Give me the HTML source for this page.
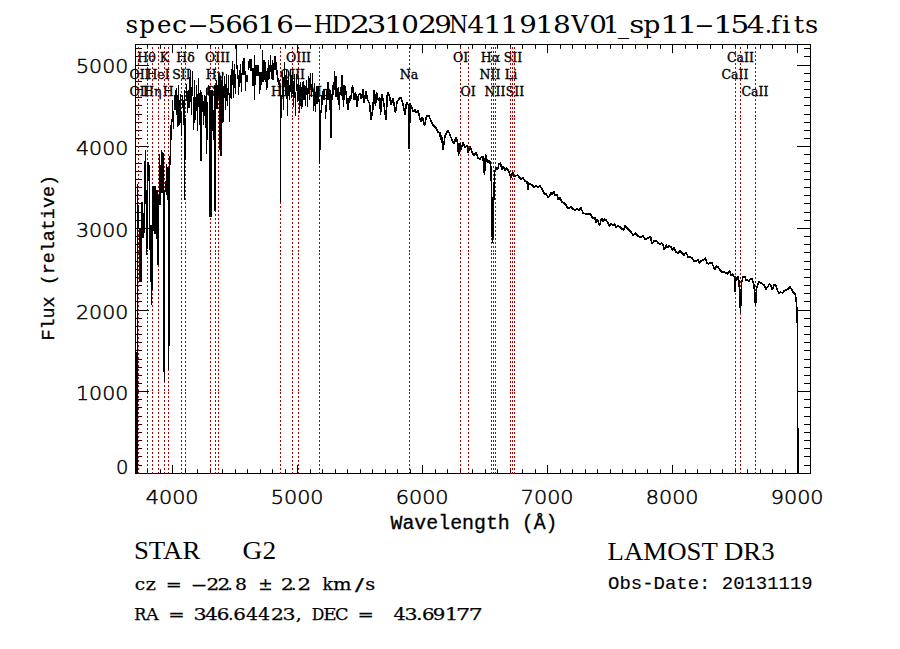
<!DOCTYPE html><html><head><meta charset="utf-8"><title>spec-56616-HD231029N411918V01_sp11-154.fits</title><style>html,body{margin:0;padding:0;background:#fff;}svg{display:block;}</style></head><body>
<svg width="900" height="649" viewBox="0 0 900 649">
<rect width="900" height="649" fill="#fff"/>
<text y="32.5" font-family="DejaVu Serif, Liberation Serif, serif" font-size="24.5" fill="#000"><tspan x="125.52" textLength="12.65" lengthAdjust="spacingAndGlyphs">s</tspan><tspan x="139.29" textLength="15.75" lengthAdjust="spacingAndGlyphs">p</tspan><tspan x="156.99" textLength="14.43" lengthAdjust="spacingAndGlyphs">e</tspan><tspan x="171.96" textLength="15.08" lengthAdjust="spacingAndGlyphs">c</tspan><tspan x="187.24" textLength="21.52" lengthAdjust="spacingAndGlyphs">-</tspan><tspan x="207.49" textLength="18.79" lengthAdjust="spacingAndGlyphs">5</tspan><tspan x="225.15" textLength="17.59" lengthAdjust="spacingAndGlyphs">6</tspan><tspan x="241.15" textLength="17.59" lengthAdjust="spacingAndGlyphs">6</tspan><tspan x="257.39" textLength="18.81" lengthAdjust="spacingAndGlyphs">1</tspan><tspan x="276.15" textLength="17.59" lengthAdjust="spacingAndGlyphs">6</tspan><tspan x="292.24" textLength="21.52" lengthAdjust="spacingAndGlyphs">-</tspan><tspan x="313.77" textLength="19.46" lengthAdjust="spacingAndGlyphs">H</tspan><tspan x="331.64" textLength="19.78" lengthAdjust="spacingAndGlyphs">D</tspan><tspan x="349.83" textLength="20.30" lengthAdjust="spacingAndGlyphs">2</tspan><tspan x="366.65" textLength="19.64" lengthAdjust="spacingAndGlyphs">3</tspan><tspan x="384.39" textLength="18.81" lengthAdjust="spacingAndGlyphs">1</tspan><tspan x="401.17" textLength="17.68" lengthAdjust="spacingAndGlyphs">0</tspan><tspan x="417.98" textLength="18.94" lengthAdjust="spacingAndGlyphs">2</tspan><tspan x="434.26" textLength="17.61" lengthAdjust="spacingAndGlyphs">9</tspan><tspan x="448.94" textLength="19.02" lengthAdjust="spacingAndGlyphs">N</tspan><tspan x="467.17" textLength="17.19" lengthAdjust="spacingAndGlyphs">4</tspan><tspan x="483.39" textLength="18.81" lengthAdjust="spacingAndGlyphs">1</tspan><tspan x="500.39" textLength="18.81" lengthAdjust="spacingAndGlyphs">1</tspan><tspan x="519.26" textLength="17.61" lengthAdjust="spacingAndGlyphs">9</tspan><tspan x="535.39" textLength="18.81" lengthAdjust="spacingAndGlyphs">1</tspan><tspan x="553.13" textLength="17.75" lengthAdjust="spacingAndGlyphs">8</tspan><tspan x="571.24" textLength="17.41" lengthAdjust="spacingAndGlyphs">V</tspan><tspan x="589.17" textLength="17.68" lengthAdjust="spacingAndGlyphs">0</tspan><tspan x="602.72" textLength="17.10" lengthAdjust="spacingAndGlyphs">1</tspan><tspan x="618.00" textLength="11.00" lengthAdjust="spacingAndGlyphs">_</tspan><tspan x="629.34" textLength="15.18" lengthAdjust="spacingAndGlyphs">s</tspan><tspan x="643.23" textLength="17.11" lengthAdjust="spacingAndGlyphs">p</tspan><tspan x="660.06" textLength="20.52" lengthAdjust="spacingAndGlyphs">1</tspan><tspan x="677.06" textLength="20.52" lengthAdjust="spacingAndGlyphs">1</tspan><tspan x="694.36" textLength="20.27" lengthAdjust="spacingAndGlyphs">-</tspan><tspan x="713.06" textLength="20.52" lengthAdjust="spacingAndGlyphs">1</tspan><tspan x="730.49" textLength="18.79" lengthAdjust="spacingAndGlyphs">5</tspan><tspan x="746.61" textLength="18.34" lengthAdjust="spacingAndGlyphs">4</tspan><tspan x="764.82" textLength="7.34" lengthAdjust="spacingAndGlyphs">.</tspan><tspan x="771.08" textLength="9.39" lengthAdjust="spacingAndGlyphs">f</tspan><tspan x="782.03" textLength="8.59" lengthAdjust="spacingAndGlyphs">i</tspan><tspan x="793.75" textLength="10.45" lengthAdjust="spacingAndGlyphs">t</tspan><tspan x="805.05" textLength="13.28" lengthAdjust="spacingAndGlyphs">s</tspan></text>
<path d="M135.5 473.5v-4.3M135.5 44.5v4.3M147.5 473.5v-4.3M147.5 44.5v4.3M160.5 473.5v-4.3M160.5 44.5v4.3M172.5 473.5v-8.6M172.5 44.5v8.6M185.5 473.5v-4.3M185.5 44.5v4.3M197.5 473.5v-4.3M197.5 44.5v4.3M210.5 473.5v-4.3M210.5 44.5v4.3M222.5 473.5v-4.3M222.5 44.5v4.3M235.5 473.5v-4.3M235.5 44.5v4.3M247.5 473.5v-4.3M247.5 44.5v4.3M260.5 473.5v-4.3M260.5 44.5v4.3M272.5 473.5v-4.3M272.5 44.5v4.3M285.5 473.5v-4.3M285.5 44.5v4.3M297.5 473.5v-8.6M297.5 44.5v8.6M310.5 473.5v-4.3M310.5 44.5v4.3M322.5 473.5v-4.3M322.5 44.5v4.3M335.5 473.5v-4.3M335.5 44.5v4.3M347.5 473.5v-4.3M347.5 44.5v4.3M360.5 473.5v-4.3M360.5 44.5v4.3M372.5 473.5v-4.3M372.5 44.5v4.3M385.5 473.5v-4.3M385.5 44.5v4.3M397.5 473.5v-4.3M397.5 44.5v4.3M410.5 473.5v-4.3M410.5 44.5v4.3M422.5 473.5v-8.6M422.5 44.5v8.6M435.5 473.5v-4.3M435.5 44.5v4.3M447.5 473.5v-4.3M447.5 44.5v4.3M460.5 473.5v-4.3M460.5 44.5v4.3M472.5 473.5v-4.3M472.5 44.5v4.3M485.5 473.5v-4.3M485.5 44.5v4.3M497.5 473.5v-4.3M497.5 44.5v4.3M510.5 473.5v-4.3M510.5 44.5v4.3M522.5 473.5v-4.3M522.5 44.5v4.3M535.5 473.5v-4.3M535.5 44.5v4.3M547.5 473.5v-8.6M547.5 44.5v8.6M560.5 473.5v-4.3M560.5 44.5v4.3M572.5 473.5v-4.3M572.5 44.5v4.3M585.5 473.5v-4.3M585.5 44.5v4.3M597.5 473.5v-4.3M597.5 44.5v4.3M610.5 473.5v-4.3M610.5 44.5v4.3M622.5 473.5v-4.3M622.5 44.5v4.3M635.5 473.5v-4.3M635.5 44.5v4.3M647.5 473.5v-4.3M647.5 44.5v4.3M660.5 473.5v-4.3M660.5 44.5v4.3M672.5 473.5v-8.6M672.5 44.5v8.6M685.5 473.5v-4.3M685.5 44.5v4.3M697.5 473.5v-4.3M697.5 44.5v4.3M710.5 473.5v-4.3M710.5 44.5v4.3M722.5 473.5v-4.3M722.5 44.5v4.3M735.5 473.5v-4.3M735.5 44.5v4.3M747.5 473.5v-4.3M747.5 44.5v4.3M760.5 473.5v-4.3M760.5 44.5v4.3M772.5 473.5v-4.3M772.5 44.5v4.3M785.5 473.5v-4.3M785.5 44.5v4.3M797.5 473.5v-8.6M797.5 44.5v8.6M810.5 473.5v-4.3M810.5 44.5v4.3M135.5 473.5h13.5M810.5 473.5h-13.5M135.5 465.5h6.5M810.5 465.5h-6.5M135.5 456.5h6.5M810.5 456.5h-6.5M135.5 448.5h6.5M810.5 448.5h-6.5M135.5 440.5h6.5M810.5 440.5h-6.5M135.5 432.5h6.5M810.5 432.5h-6.5M135.5 424.5h6.5M810.5 424.5h-6.5M135.5 416.5h6.5M810.5 416.5h-6.5M135.5 407.5h6.5M810.5 407.5h-6.5M135.5 399.5h6.5M810.5 399.5h-6.5M135.5 391.5h13.5M810.5 391.5h-13.5M135.5 383.5h6.5M810.5 383.5h-6.5M135.5 375.5h6.5M810.5 375.5h-6.5M135.5 367.5h6.5M810.5 367.5h-6.5M135.5 359.5h6.5M810.5 359.5h-6.5M135.5 350.5h6.5M810.5 350.5h-6.5M135.5 342.5h6.5M810.5 342.5h-6.5M135.5 334.5h6.5M810.5 334.5h-6.5M135.5 326.5h6.5M810.5 326.5h-6.5M135.5 318.5h6.5M810.5 318.5h-6.5M135.5 310.5h13.5M810.5 310.5h-13.5M135.5 301.5h6.5M810.5 301.5h-6.5M135.5 293.5h6.5M810.5 293.5h-6.5M135.5 285.5h6.5M810.5 285.5h-6.5M135.5 277.5h6.5M810.5 277.5h-6.5M135.5 269.5h6.5M810.5 269.5h-6.5M135.5 261.5h6.5M810.5 261.5h-6.5M135.5 252.5h6.5M810.5 252.5h-6.5M135.5 244.5h6.5M810.5 244.5h-6.5M135.5 236.5h6.5M810.5 236.5h-6.5M135.5 228.5h13.5M810.5 228.5h-13.5M135.5 220.5h6.5M810.5 220.5h-6.5M135.5 212.5h6.5M810.5 212.5h-6.5M135.5 203.5h6.5M810.5 203.5h-6.5M135.5 195.5h6.5M810.5 195.5h-6.5M135.5 187.5h6.5M810.5 187.5h-6.5M135.5 179.5h6.5M810.5 179.5h-6.5M135.5 171.5h6.5M810.5 171.5h-6.5M135.5 163.5h6.5M810.5 163.5h-6.5M135.5 154.5h6.5M810.5 154.5h-6.5M135.5 146.5h13.5M810.5 146.5h-13.5M135.5 138.5h6.5M810.5 138.5h-6.5M135.5 130.5h6.5M810.5 130.5h-6.5M135.5 122.5h6.5M810.5 122.5h-6.5M135.5 114.5h6.5M810.5 114.5h-6.5M135.5 105.5h6.5M810.5 105.5h-6.5M135.5 97.5h6.5M810.5 97.5h-6.5M135.5 89.5h6.5M810.5 89.5h-6.5M135.5 81.5h6.5M810.5 81.5h-6.5M135.5 73.5h6.5M810.5 73.5h-6.5M135.5 65.5h13.5M810.5 65.5h-13.5M135.5 56.5h6.5M810.5 56.5h-6.5M135.5 48.5h6.5M810.5 48.5h-6.5" stroke="#000" stroke-width="1" fill="none"/>
<rect x="135.5" y="44.5" width="675" height="429" fill="none" stroke="#000" stroke-width="1"/>
<text x="146.5" y="61.5" text-anchor="middle" font-family="DejaVu Serif, Liberation Serif, serif" font-size="12.5" fill="#000" stroke="#000" stroke-width="0.35">Hθ</text>
<text x="164.5" y="61.5" text-anchor="middle" font-family="DejaVu Serif, Liberation Serif, serif" font-size="12.5" fill="#000" stroke="#000" stroke-width="0.35">K</text>
<text x="185.5" y="61.5" text-anchor="middle" font-family="DejaVu Serif, Liberation Serif, serif" font-size="12.5" fill="#000" stroke="#000" stroke-width="0.35">Hδ</text>
<text x="217.5" y="61.5" text-anchor="middle" font-family="DejaVu Serif, Liberation Serif, serif" font-size="12.5" fill="#000" stroke="#000" stroke-width="0.35">OIII</text>
<text x="298.5" y="61.5" text-anchor="middle" font-family="DejaVu Serif, Liberation Serif, serif" font-size="12.5" fill="#000" stroke="#000" stroke-width="0.35">OIII</text>
<text x="460.5" y="61.5" text-anchor="middle" font-family="DejaVu Serif, Liberation Serif, serif" font-size="12.5" fill="#000" stroke="#000" stroke-width="0.35">OI</text>
<text x="490.5" y="61.5" text-anchor="middle" font-family="DejaVu Serif, Liberation Serif, serif" font-size="12.5" fill="#000" stroke="#000" stroke-width="0.35">Hα</text>
<text x="513" y="61.5" text-anchor="middle" font-family="DejaVu Serif, Liberation Serif, serif" font-size="12.5" fill="#000" stroke="#000" stroke-width="0.35">SII</text>
<text x="740.5" y="61.5" text-anchor="middle" font-family="DejaVu Serif, Liberation Serif, serif" font-size="12.5" fill="#000" stroke="#000" stroke-width="0.35">CaII</text>
<text x="139.5" y="78.5" text-anchor="middle" font-family="DejaVu Serif, Liberation Serif, serif" font-size="12.5" fill="#000" stroke="#000" stroke-width="0.35">OII</text>
<text x="158" y="78.5" text-anchor="middle" font-family="DejaVu Serif, Liberation Serif, serif" font-size="12.5" fill="#000" stroke="#000" stroke-width="0.35">HeI</text>
<text x="181.5" y="78.5" text-anchor="middle" font-family="DejaVu Serif, Liberation Serif, serif" font-size="12.5" fill="#000" stroke="#000" stroke-width="0.35">SII</text>
<text x="215" y="78.5" text-anchor="middle" font-family="DejaVu Serif, Liberation Serif, serif" font-size="12.5" fill="#000" stroke="#000" stroke-width="0.35">Hγ</text>
<text x="292.5" y="78.5" text-anchor="middle" font-family="DejaVu Serif, Liberation Serif, serif" font-size="12.5" fill="#000" stroke="#000" stroke-width="0.35">OIII</text>
<text x="409" y="78.5" text-anchor="middle" font-family="DejaVu Serif, Liberation Serif, serif" font-size="12.5" fill="#000" stroke="#000" stroke-width="0.35">Na</text>
<text x="490" y="78.5" text-anchor="middle" font-family="DejaVu Serif, Liberation Serif, serif" font-size="12.5" fill="#000" stroke="#000" stroke-width="0.35">NII</text>
<text x="511" y="78.5" text-anchor="middle" font-family="DejaVu Serif, Liberation Serif, serif" font-size="12.5" fill="#000" stroke="#000" stroke-width="0.35">Li</text>
<text x="735" y="78.5" text-anchor="middle" font-family="DejaVu Serif, Liberation Serif, serif" font-size="12.5" fill="#000" stroke="#000" stroke-width="0.35">CaII</text>
<text x="139.5" y="95.5" text-anchor="middle" font-family="DejaVu Serif, Liberation Serif, serif" font-size="12.5" fill="#000" stroke="#000" stroke-width="0.35">OII</text>
<text x="152.3" y="95.5" text-anchor="middle" font-family="DejaVu Serif, Liberation Serif, serif" font-size="12.5" fill="#000" stroke="#000" stroke-width="0.35">Hη</text>
<text x="168.3" y="95.5" text-anchor="middle" font-family="DejaVu Serif, Liberation Serif, serif" font-size="12.5" fill="#000" stroke="#000" stroke-width="0.35">H</text>
<text x="210.5" y="95.5" text-anchor="middle" font-family="DejaVu Serif, Liberation Serif, serif" font-size="12.5" fill="#000" stroke="#000" stroke-width="0.35">G</text>
<text x="280" y="95.5" text-anchor="middle" font-family="DejaVu Serif, Liberation Serif, serif" font-size="12.5" fill="#000" stroke="#000" stroke-width="0.35">Hβ</text>
<text x="319.5" y="95.5" text-anchor="middle" font-family="DejaVu Serif, Liberation Serif, serif" font-size="12.5" fill="#000" stroke="#000" stroke-width="0.35">Mg</text>
<text x="468" y="95.5" text-anchor="middle" font-family="DejaVu Serif, Liberation Serif, serif" font-size="12.5" fill="#000" stroke="#000" stroke-width="0.35">OI</text>
<text x="495" y="95.5" text-anchor="middle" font-family="DejaVu Serif, Liberation Serif, serif" font-size="12.5" fill="#000" stroke="#000" stroke-width="0.35">NII</text>
<text x="515" y="95.5" text-anchor="middle" font-family="DejaVu Serif, Liberation Serif, serif" font-size="12.5" fill="#000" stroke="#000" stroke-width="0.35">SII</text>
<text x="755" y="95.5" text-anchor="middle" font-family="DejaVu Serif, Liberation Serif, serif" font-size="12.5" fill="#000" stroke="#000" stroke-width="0.35">CaII</text>
<path d="M138.5 47V474M147.5 47V474M152.5 47V474M158.5 47V474M164.5 47V474M168.5 47V474M181.5 47V474M185.5 47V474M210.5 47V474M215.5 47V474M218.5 47V474M280.5 47V474M292.5 47V474M298.5 47V474M319.5 47V474M409.5 47V474M460.5 47V474M468.5 47V474M491.5 47V474M493.5 47V474M495.5 47V474M510.5 47V474M512.5 47V474M514.5 47V474M735.5 47V474M740.5 47V474M755.5 47V474" stroke="#aa0000" stroke-width="1" stroke-dasharray="2 1.971" fill="none" shape-rendering="crispEdges"/>
<path d="M136.5 352.0V473.0M137.5 184.0V473.0M138.5 205.0V228.0M139.5 228.0V282.0M140.5 228.0V282.0M141.5 202.0V282.0M142.5 202.0V238.0M143.5 213.0V238.0M144.5 161.0V233.0M145.5 150.0V204.0M146.5 190.0V255.0M147.5 162.0V249.0M148.5 162.0V181.0M149.5 165.0V250.0M150.5 225.0V282.0M151.5 225.0V305.0M152.5 186.0V290.0M153.5 186.0V231.0M154.5 186.0V234.0M155.5 186.0V234.0M156.5 190.0V239.0M157.5 190.0V265.0M158.5 195.0V265.0M159.5 154.0V205.0M160.5 165.0V205.0M161.5 150.0V193.0M162.5 152.0V193.0M163.5 153.0V372.0M164.5 190.0V382.0M165.5 181.0V192.0M166.5 164.0V195.0M167.5 167.0V200.0M168.5 167.0V369.6M169.5 156.0V346.0M170.5 125.0V165.0M171.5 118.6V140.0M172.5 100.0V121.5M173.5 110.7V129.0M174.5 95.0V110.0M175.5 90.0V110.0M176.5 88.0V114.9M177.5 94.9V127.0M178.5 85.0V125.7M179.5 100.4V125.0M180.5 94.0V122.8M181.5 112.2V136.0M182.5 95.0V108.0M183.5 99.9V125.0M184.5 90.0V200.0M185.5 118.0V160.0M186.5 84.0V100.8M187.5 91.0V113.0M188.5 90.0V108.0M189.5 76.7V108.0M190.5 70.0V101.7M191.5 87.4V115.0M192.5 71.0V95.8M193.5 97.2V130.0M194.5 80.0V122.8M195.5 97.1V120.0M196.5 85.0V110.7M197.5 94.1V131.0M198.5 78.0V107.4M199.5 92.5V125.0M200.5 90.0V161.0M201.5 92.0V161.0M202.5 95.0V112.0M203.5 101.2V125.0M204.5 95.0V115.5M205.5 96.0V128.0M206.5 88.0V154.0M207.5 101.6V140.0M208.5 85.0V95.0M209.5 86.0V217.0M210.5 90.0V217.0M211.5 90.0V217.0M212.5 90.0V130.9M213.5 110.1V140.0M214.5 85.0V211.0M215.5 85.0V211.0M216.5 80.0V108.9M217.5 85.3V109.0M218.5 73.0V98.9M219.5 76.0V150.0M220.5 76.0V156.0M221.5 80.0V156.0M222.5 72.0V122.9M223.5 86.4V122.0M224.5 76.0V98.0M225.5 83.9V110.0M226.5 74.0V101.2M227.5 88.4V106.0M228.5 75.0V95.1M229.5 92.5V121.6M230.5 75.0V97.6M231.5 69.3V99.0M232.5 61.0V84.6M233.5 69.8V98.0M234.5 64.0V88.2M235.5 73.6V94.0M236.5 44.5V68.5M237.5 65.0V79.0M238.5 75.0V95.1M239.5 70.1V87.0M240.5 64.0V83.3M241.5 73.4V91.6M242.5 61.0V75.0M243.5 58.0V75.0M244.5 58.0V75.0M245.5 71.2V91.0M246.5 75.0V82.0M247.5 75.0V82.0M248.5 61.0V70.0M249.5 59.0V68.0M250.5 59.0V71.0M251.5 59.0V71.0M252.5 68.0V86.0M253.5 68.0V86.0M254.5 55.0V100.0M255.5 65.0V85.0M256.5 65.0V76.0M257.5 65.0V76.0M258.5 65.0V76.0M259.5 72.0V94.0M260.5 72.0V90.0M261.5 72.0V85.0M262.5 50.0V82.0M263.5 60.0V82.0M264.5 60.0V80.0M265.5 62.0V82.0M266.5 71.0V90.0M267.5 67.5V88.0M268.5 60.0V80.0M269.5 65.2V79.0M270.5 54.6V71.5M271.5 65.4V79.0M272.5 60.0V80.0M273.5 63.0V80.0M274.5 56.0V70.0M275.5 56.0V70.0M276.5 62.0V75.0M277.5 70.0V82.0M278.5 78.0V85.0M279.5 80.0V88.0M280.5 85.0V202.0M281.5 95.0V118.0M282.5 72.0V97.4M283.5 76.9V110.0M284.5 62.0V86.4M285.5 74.7V95.0M286.5 70.0V99.0M287.5 79.8V116.0M288.5 71.0V95.7M289.5 84.9V100.0M290.5 69.0V91.5M291.5 75.2V98.0M292.5 72.0V93.8M293.5 80.8V107.0M294.5 74.0V97.9M295.5 91.6V116.0M296.5 74.0V90.9M297.5 84.3V102.0M298.5 76.0V101.3M299.5 85.3V113.0M300.5 82.0V105.9M301.5 87.1V109.0M302.5 82.0V106.5M303.5 81.0V100.0M304.5 85.0V100.0M305.5 86.0V106.0M306.5 80.0V95.2M307.5 87.5V107.0M308.5 76.0V93.8M309.5 78.0V100.0M310.5 73.0V90.0M311.5 83.6V97.0M312.5 73.0V92.0M313.5 89.8V111.0M314.5 83.0V105.8M315.5 91.5V112.0M316.5 86.0V104.0M317.5 86.0V104.0M318.5 86.0V102.0M319.5 100.0V164.0M320.5 110.0V150.0M321.5 95.0V113.0M322.5 91.0V105.0M323.5 89.0V100.0M324.5 89.0V100.0M325.5 104.8V119.0M326.5 90.0V111.5M327.5 82.0V100.0M328.5 82.0V100.0M329.5 88.7V110.0M330.5 90.0V137.7M331.5 94.0V137.7M332.5 85.0V100.0M333.5 81.7V95.0M334.5 71.0V90.0M335.5 76.0V97.0M336.5 76.0V97.0M337.5 88.0V100.0M338.5 87.0V105.2M339.5 92.2V110.0M340.5 87.0V95.0M341.5 75.0V96.0M342.5 74.8V100.0M343.5 85.0V107.0M344.5 85.0V100.0" stroke="#000" stroke-width="1.0" fill="none" shape-rendering="crispEdges"/>
<polyline points="344.5,85.0 345.0,87.0 346.0,92.0 348.0,110.0 349.5,96.0 350.5,101.0 352.5,85.0 354.0,100.0 355.5,92.0 357.0,107.0 358.5,95.0 360.0,94.0 361.5,99.0 363.0,89.0 364.0,103.0 366.0,91.0 367.5,100.0 369.5,103.0 371.0,120.0 373.0,108.0 374.0,90.0 375.5,106.0 376.5,92.0 378.0,100.0 380.0,98.0 380.5,115.0 382.0,94.0 384.0,105.0 386.0,120.0 387.5,92.0 389.5,96.0 391.0,105.0 393.0,98.0 395.5,113.0 397.0,102.0 400.5,97.0 403.0,104.0 405.0,115.0 406.5,102.0 408.5,105.0 409.0,149.0 409.6,130.0 410.0,103.5 412.0,108.0 413.5,112.0 415.0,109.0 416.5,113.0 418.0,110.0 419.5,117.0 421.0,122.0 422.5,117.0 424.5,126.0 426.5,116.0 429.0,116.0 431.0,121.0 433.0,125.0 436.0,128.0 438.0,132.0 440.0,133.0 440.5,140.0 441.5,135.0 443.0,150.0 445.0,136.0 448.0,130.0 450.0,135.0 452.0,140.0 454.0,144.0 456.0,137.0 458.0,144.0 458.5,156.0 460.0,143.0 461.0,150.0 463.0,142.0 465.0,148.0 467.0,145.0 468.0,153.0 470.0,146.0 472.0,152.0 474.0,156.0 476.0,152.0 478.0,158.0 480.0,159.0 481.5,157.0 483.0,157.0 484.5,175.0 485.5,154.0 486.5,158.0 487.5,163.0 489.0,161.0 490.0,162.0 491.0,168.0 491.8,200.0 492.4,243.0 493.2,230.0 493.8,195.0 494.7,172.0 495.5,170.0 496.5,167.0 497.5,170.0 499.0,164.0 500.5,163.0 502.0,170.0 503.5,166.0 505.0,171.0 506.5,168.0 508.0,170.0 509.0,172.0 511.0,178.0 512.5,172.0 514.0,176.0 515.5,176.0 517.5,175.0 519.0,177.0 521.0,179.0 523.0,178.0 525.0,181.0 527.0,182.0 528.0,190.0 528.5,183.0 530.0,184.0 532.0,185.0 534.0,187.0 536.0,186.0 538.0,187.0 540.0,186.0 542.0,189.0 544.0,193.0 545.0,195.0 546.0,193.0 548.0,198.0 549.5,196.0 551.0,192.0 552.5,195.0 553.5,191.0 555.0,195.0 557.0,195.0 558.5,200.0 560.0,198.0 562.0,202.0 564.0,203.0 566.0,205.0 567.5,208.0 569.0,208.0 571.0,207.0 573.0,209.0 575.0,210.0 577.0,209.0 579.0,210.0 581.0,208.0 583.0,213.0 586.0,214.0 588.0,214.0 590.5,214.0 592.5,218.0 595.0,218.0 596.0,223.0 597.0,219.0 598.5,222.0 599.5,226.0 601.0,220.0 602.0,219.0 603.0,222.0 604.5,219.0 606.0,220.0 608.0,223.0 609.5,226.0 611.0,224.0 613.0,225.0 614.5,224.0 616.0,227.0 618.0,226.0 620.0,227.0 622.0,229.0 623.5,230.0 625.0,226.0 627.0,228.0 629.0,230.0 631.0,232.0 633.0,235.5 635.5,233.5 638.5,236.5 641.0,237.0 643.0,235.5 645.0,239.5 647.0,238.5 650.5,236.5 652.0,244.0 654.0,241.0 656.5,241.0 658.0,243.0 660.0,244.0 661.5,243.0 663.0,245.0 664.5,250.0 665.5,246.0 666.5,245.0 667.5,248.0 669.0,245.5 671.0,247.0 672.5,250.0 674.0,248.0 676.0,252.0 678.0,253.0 680.0,251.0 682.0,253.0 684.0,255.0 686.0,252.0 688.0,257.0 690.0,257.0 692.0,258.0 694.0,261.0 696.0,261.0 698.0,260.0 699.5,263.0 701.0,261.0 703.0,260.0 705.5,258.0 707.0,263.0 708.5,264.0 710.0,263.0 712.0,263.0 714.0,268.0 715.0,270.0 716.5,266.0 718.0,267.0 720.0,270.0 722.0,272.0 724.0,272.0 726.0,273.0 727.5,274.0 729.5,270.5 731.0,275.0 732.5,274.0 733.5,276.0 734.5,277.0 735.0,292.0 735.5,276.0 736.5,281.0 738.0,276.0 739.0,281.0 740.0,300.0 740.5,313.0 741.5,283.0 743.0,277.0 745.0,277.0 746.0,280.0 747.5,280.0 749.0,281.0 750.5,279.0 752.0,279.0 753.5,283.0 754.5,290.0 755.5,306.0 756.5,289.0 757.5,285.0 759.0,282.0 761.0,283.0 762.5,284.0 764.0,285.0 766.0,289.0 767.5,287.0 769.5,284.0 771.0,286.0 772.5,290.0 774.0,285.0 775.5,285.0 777.0,289.0 779.0,294.0 780.5,292.0 782.5,293.0 784.0,291.0 786.0,290.0 788.0,289.0 790.0,287.0 791.5,289.0 793.0,292.0 795.0,294.0 796.0,298.0 797.0,310.0 797.5,330.0 797.8,473.0" fill="none" stroke="#000" stroke-width="1.6" stroke-linejoin="miter" stroke-miterlimit="2" shape-rendering="crispEdges"/>
<text x="128.3" y="473.5" text-anchor="end" font-family="DejaVu Sans, Liberation Sans, sans-serif" font-weight="200" stroke="#000" stroke-width="0.5" font-size="19.5" fill="#000">0</text>
<text x="128.3" y="400.3" text-anchor="end" font-family="DejaVu Sans, Liberation Sans, sans-serif" font-weight="200" stroke="#000" stroke-width="0.5" font-size="19.5" textLength="52.3" lengthAdjust="spacingAndGlyphs" fill="#000">1000</text>
<text x="128.3" y="319.0" text-anchor="end" font-family="DejaVu Sans, Liberation Sans, sans-serif" font-weight="200" stroke="#000" stroke-width="0.5" font-size="19.5" textLength="52.3" lengthAdjust="spacingAndGlyphs" fill="#000">2000</text>
<text x="128.3" y="237.0" text-anchor="end" font-family="DejaVu Sans, Liberation Sans, sans-serif" font-weight="200" stroke="#000" stroke-width="0.5" font-size="19.5" textLength="52.3" lengthAdjust="spacingAndGlyphs" fill="#000">3000</text>
<text x="128.3" y="155.0" text-anchor="end" font-family="DejaVu Sans, Liberation Sans, sans-serif" font-weight="200" stroke="#000" stroke-width="0.5" font-size="19.5" textLength="52.3" lengthAdjust="spacingAndGlyphs" fill="#000">4000</text>
<text x="128.3" y="73.4" text-anchor="end" font-family="DejaVu Sans, Liberation Sans, sans-serif" font-weight="200" stroke="#000" stroke-width="0.5" font-size="19.5" textLength="52.3" lengthAdjust="spacingAndGlyphs" fill="#000">5000</text>
<text x="145.70000000000002" y="504" font-family="DejaVu Sans, Liberation Sans, sans-serif" font-weight="200" stroke="#000" stroke-width="0.5" font-size="19.5" textLength="52.9" lengthAdjust="spacingAndGlyphs" fill="#000">4000</text>
<text x="270.7" y="504" font-family="DejaVu Sans, Liberation Sans, sans-serif" font-weight="200" stroke="#000" stroke-width="0.5" font-size="19.5" textLength="52.9" lengthAdjust="spacingAndGlyphs" fill="#000">5000</text>
<text x="395.7" y="504" font-family="DejaVu Sans, Liberation Sans, sans-serif" font-weight="200" stroke="#000" stroke-width="0.5" font-size="19.5" textLength="52.9" lengthAdjust="spacingAndGlyphs" fill="#000">6000</text>
<text x="520.6999999999999" y="504" font-family="DejaVu Sans, Liberation Sans, sans-serif" font-weight="200" stroke="#000" stroke-width="0.5" font-size="19.5" textLength="52.9" lengthAdjust="spacingAndGlyphs" fill="#000">7000</text>
<text x="645.6999999999999" y="504" font-family="DejaVu Sans, Liberation Sans, sans-serif" font-weight="200" stroke="#000" stroke-width="0.5" font-size="19.5" textLength="52.9" lengthAdjust="spacingAndGlyphs" fill="#000">8000</text>
<text x="770.6999999999999" y="504" font-family="DejaVu Sans, Liberation Sans, sans-serif" font-weight="200" stroke="#000" stroke-width="0.5" font-size="19.5" textLength="52.9" lengthAdjust="spacingAndGlyphs" fill="#000">9000</text>
<text x="390.5" y="529.4" font-family="Liberation Mono, monospace" stroke="#000" stroke-width="0.3" font-size="20" textLength="167" lengthAdjust="spacingAndGlyphs" fill="#000">Wavelength (Å)</text>
<text transform="translate(54,340.5) rotate(-90)" x="0" y="0" font-family="Liberation Mono, monospace" stroke="#000" stroke-width="0.3" font-size="19" textLength="165.5" lengthAdjust="spacingAndGlyphs" fill="#000">Flux (relative)</text>
<text x="133.9" y="559.4" font-family="Liberation Serif, DejaVu Serif, serif" font-size="26" fill="#000" textLength="66.6" lengthAdjust="spacingAndGlyphs">STAR</text>
<text x="242.6" y="559.4" font-family="Liberation Serif, DejaVu Serif, serif" font-size="26" fill="#000" textLength="33.5" lengthAdjust="spacingAndGlyphs">G2</text>
<text x="607.6" y="559.9" font-family="Liberation Serif, DejaVu Serif, serif" font-size="26" fill="#000" textLength="167" lengthAdjust="spacingAndGlyphs">LAMOST DR3</text>
<text y="589.6" font-family="DejaVu Serif, Liberation Serif, serif" font-size="17.5" fill="#000" stroke="#000" stroke-width="0.25" style="white-space:pre"><tspan x="134.88" textLength="10.37" lengthAdjust="spacingAndGlyphs">c</tspan><tspan x="145.83" textLength="10.18" lengthAdjust="spacingAndGlyphs">z</tspan> <tspan x="165.77" textLength="16.06" lengthAdjust="spacingAndGlyphs">=</tspan> <tspan x="190.67" textLength="16.56" lengthAdjust="spacingAndGlyphs">-</tspan><tspan x="206.64" textLength="12.72" lengthAdjust="spacingAndGlyphs">2</tspan><tspan x="217.44" textLength="12.72" lengthAdjust="spacingAndGlyphs">2</tspan><tspan x="227.48" textLength="5.14" lengthAdjust="spacingAndGlyphs">.</tspan><tspan x="234.95" textLength="11.91" lengthAdjust="spacingAndGlyphs">8</tspan> <tspan x="258.27" textLength="14.46" lengthAdjust="spacingAndGlyphs">±</tspan> <tspan x="281.14" textLength="12.72" lengthAdjust="spacingAndGlyphs">2</tspan><tspan x="291.00" textLength="5.38" lengthAdjust="spacingAndGlyphs">.</tspan><tspan x="297.64" textLength="13.67" lengthAdjust="spacingAndGlyphs">2</tspan> <tspan x="322.51" textLength="10.38" lengthAdjust="spacingAndGlyphs">k</tspan><tspan x="333.09" textLength="18.54" lengthAdjust="spacingAndGlyphs">m</tspan><tspan x="355.03" textLength="8.84" lengthAdjust="spacingAndGlyphs">/</tspan><tspan x="365.21" textLength="9.99" lengthAdjust="spacingAndGlyphs">s</tspan></text>
<text y="619.5" font-family="DejaVu Serif, Liberation Serif, serif" font-size="17.5" fill="#000" stroke="#000" stroke-width="0.25" style="white-space:pre"><tspan x="134.22" textLength="12.00" lengthAdjust="spacingAndGlyphs">R</tspan><tspan x="146.00" textLength="12.72" lengthAdjust="spacingAndGlyphs">A</tspan> <tspan x="168.32" textLength="16.46" lengthAdjust="spacingAndGlyphs">=</tspan> <tspan x="193.42" textLength="13.23" lengthAdjust="spacingAndGlyphs">3</tspan><tspan x="205.20" textLength="12.49" lengthAdjust="spacingAndGlyphs">4</tspan><tspan x="216.77" textLength="12.69" lengthAdjust="spacingAndGlyphs">6</tspan><tspan x="228.18" textLength="5.14" lengthAdjust="spacingAndGlyphs">.</tspan><tspan x="233.37" textLength="12.69" lengthAdjust="spacingAndGlyphs">6</tspan><tspan x="245.92" textLength="12.03" lengthAdjust="spacingAndGlyphs">4</tspan><tspan x="257.92" textLength="12.03" lengthAdjust="spacingAndGlyphs">4</tspan><tspan x="271.13" textLength="12.85" lengthAdjust="spacingAndGlyphs">2</tspan><tspan x="282.43" textLength="13.10" lengthAdjust="spacingAndGlyphs">3</tspan><tspan x="295.82" textLength="6.01" lengthAdjust="spacingAndGlyphs">,</tspan> <tspan x="311.64" textLength="12.57" lengthAdjust="spacingAndGlyphs">D</tspan><tspan x="323.29" textLength="13.38" lengthAdjust="spacingAndGlyphs">E</tspan><tspan x="334.90" textLength="13.56" lengthAdjust="spacingAndGlyphs">C</tspan> <tspan x="357.62" textLength="16.46" lengthAdjust="spacingAndGlyphs">=</tspan>  <tspan x="393.41" textLength="12.26" lengthAdjust="spacingAndGlyphs">4</tspan><tspan x="404.43" textLength="13.10" lengthAdjust="spacingAndGlyphs">3</tspan><tspan x="416.04" textLength="6.61" lengthAdjust="spacingAndGlyphs">.</tspan><tspan x="421.98" textLength="12.57" lengthAdjust="spacingAndGlyphs">6</tspan><tspan x="432.75" textLength="12.58" lengthAdjust="spacingAndGlyphs">9</tspan><tspan x="444.68" textLength="13.68" lengthAdjust="spacingAndGlyphs">1</tspan><tspan x="456.13" textLength="14.18" lengthAdjust="spacingAndGlyphs">7</tspan><tspan x="468.85" textLength="14.05" lengthAdjust="spacingAndGlyphs">7</tspan></text>
<text x="608.1" y="589.2" font-family="Liberation Mono, monospace" stroke="#000" stroke-width="0.15" font-size="19" fill="#000" textLength="204.6" lengthAdjust="spacingAndGlyphs">Obs-Date: 20131119</text>
</svg></body></html>
